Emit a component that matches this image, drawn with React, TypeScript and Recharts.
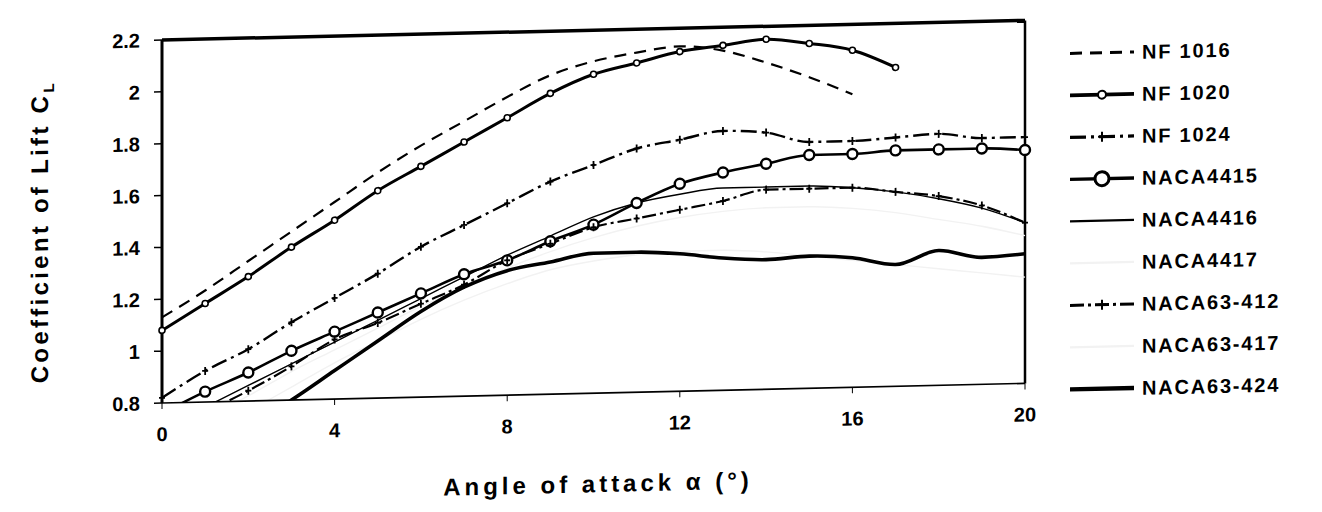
import React from 'react'
import { LineChart, Line, XAxis, YAxis, ReferenceLine, Legend } from 'recharts'

const FONT = '"Liberation Sans", Arial, sans-serif'

// angle of attack (deg)
const ANGLES = [0, 1, 2, 3, 4, 5, 6, 7, 8, 9, 10, 11, 12, 13, 14, 15, 16, 17, 18, 19, 20]
const X_TICKS = [0, 4, 8, 12, 16, 20]
const Y_TICKS = [0.8, 1, 1.2, 1.4, 1.6, 1.8, 2, 2.2]

// lift coefficient
const NF1016 = [1.13, 1.23, 1.34, 1.45, 1.56, 1.67, 1.77, 1.86, 1.95, 2.03, 2.08, 2.11, 2.13, 2.11, 2.06, 2.0, 1.93]
const NF1020 = [1.08, 1.18, 1.28, 1.39, 1.49, 1.6, 1.69, 1.78, 1.87, 1.96, 2.03, 2.07, 2.11, 2.13, 2.15, 2.13, 2.1, 2.03]
const NF1024 = [0.82, 0.92, 1.0, 1.1, 1.19, 1.28, 1.38, 1.46, 1.54, 1.62, 1.68, 1.74, 1.77, 1.8, 1.79, 1.75, 1.75, 1.76, 1.77, 1.75, 1.75]
const NACA4415 = [0.76, 0.84, 0.91, 0.99, 1.06, 1.13, 1.2, 1.27, 1.32, 1.39, 1.45, 1.53, 1.6, 1.64, 1.67, 1.7, 1.7, 1.71, 1.71, 1.71, 1.7]
const NACA4416 = [0.7, 0.78, 0.86, 0.94, 1.02, 1.1, 1.18, 1.26, 1.34, 1.41, 1.48, 1.53, 1.56, 1.58, 1.58, 1.58, 1.57, 1.55, 1.52, 1.48, 1.42]
const NACA4417 = [0.66, 0.74, 0.82, 0.91, 0.99, 1.07, 1.15, 1.22, 1.29, 1.35, 1.4, 1.44, 1.47, 1.49, 1.5, 1.5, 1.49, 1.47, 1.44, 1.41, 1.37]
const NACA63_412 = [0.68, 0.76, 0.84, 0.93, 1.03, 1.09, 1.16, 1.23, 1.32, 1.38, 1.44, 1.47, 1.5, 1.53, 1.57, 1.57, 1.57, 1.55, 1.53, 1.49, 1.42]
const NACA63_417 = [0.58, 0.67, 0.76, 0.85, 0.94, 1.02, 1.1, 1.17, 1.23, 1.28, 1.31, 1.33, 1.34, 1.34, 1.33, 1.31, 1.29, 1.27, 1.25, 1.23, 1.21]
const NACA63_424 = [0.48, 0.59, 0.7, 0.8, 0.91, 1.02, 1.13, 1.22, 1.28, 1.31, 1.34, 1.34, 1.33, 1.31, 1.3, 1.31, 1.3, 1.27, 1.32, 1.29, 1.3]

type Marker = 'none' | 'circle' | 'bigcircle' | 'plus'
type Series = { key: string; name: string; values: number[]; stroke: string; width: number; dash?: string; marker: Marker }

const SERIES: Series[] = [
  { key: 'nf1016', name: 'NF 1016', values: NF1016, stroke: '#000', width: 2.2, dash: '12 8', marker: 'none' },
  { key: 'nf1020', name: 'NF 1020', values: NF1020, stroke: '#000', width: 3, marker: 'circle' },
  { key: 'nf1024', name: 'NF 1024', values: NF1024, stroke: '#000', width: 2.4, dash: '16 5 3 5', marker: 'plus' },
  { key: 'naca4415', name: 'NACA4415', values: NACA4415, stroke: '#000', width: 2.6, marker: 'bigcircle' },
  { key: 'naca4416', name: 'NACA4416', values: NACA4416, stroke: '#000', width: 1.4, marker: 'none' },
  { key: 'naca4417', name: 'NACA4417', values: NACA4417, stroke: '#f2f2f2', width: 1.4, marker: 'none' },
  { key: 'naca63412', name: 'NACA63-412', values: NACA63_412, stroke: '#000', width: 2.2, dash: '14 4 3 4', marker: 'plus' },
  { key: 'naca63417', name: 'NACA63-417', values: NACA63_417, stroke: '#f2f2f2', width: 1.4, marker: 'none' },
  { key: 'naca63424', name: 'NACA63-424', values: NACA63_424, stroke: '#000', width: 3.6, marker: 'none' },
]

const data = ANGLES.map((a, i) => {
  const row: Record<string, number> = { a }
  SERIES.forEach((s) => {
    if (i < s.values.length) row[s.key] = s.values[i]
  })
  return row
})

const plusDot = (p: any) => {
  if (p.cx == null || p.cy == null || p.value == null) return <g key={p.key} />
  return <path key={p.key} d={`M${p.cx - 3},${p.cy}h6M${p.cx},${p.cy - 4}v8`} stroke="#000" strokeWidth={1.8} fill="none" />
}

function dotFor(s: Series): any {
  if (s.marker === 'circle') return { r: 3, fill: '#fff', stroke: '#000', strokeWidth: 1.6 }
  if (s.marker === 'bigcircle') return { r: 5, fill: '#fff', stroke: '#000', strokeWidth: 2.4 }
  if (s.marker === 'plus') return plusDot
  return false
}

function LegendIcon({ s }: { s: Series }) {
  return (
    <svg width={70} height={24} style={{ display: 'block' }}>
      <line x1={2} y1={12} x2={66} y2={12} stroke={s.stroke} strokeWidth={s.width + 0.8} strokeDasharray={s.dash} />
      {s.marker === 'circle' && <circle cx={34} cy={12} r={4} fill="#fff" stroke="#000" strokeWidth={2} />}
      {s.marker === 'bigcircle' && <circle cx={34} cy={12} r={7} fill="#fff" stroke="#000" strokeWidth={3} />}
      {s.marker === 'plus' && <path d="M30,12h8M34,7v10" stroke="#000" strokeWidth={2} />}
    </svg>
  )
}

function LegendBox() {
  return (
    <div style={{ fontFamily: FONT, fontWeight: 700, fontSize: 20, letterSpacing: 1.8, color: '#000' }}>
      {SERIES.map((s) => (
        <div key={s.key} style={{ display: 'flex', alignItems: 'center', height: 42 }}>
          <LegendIcon s={s} />
          <span style={{ marginLeft: 4, whiteSpace: 'nowrap' }}>{s.name}</span>
        </div>
      ))}
    </div>
  )
}

const YTitle = () => (
  <text x={48} y={229} transform="rotate(-90 48 229)" textAnchor="middle" fontFamily={FONT} fontWeight={700} fontSize={24} letterSpacing={3.3} fill="#000">
    Coefficient of Lift C<tspan fontSize={15} dy={6}>L</tspan>
  </text>
)

const XTitle = () => (
  <text x={598} y={502} textAnchor="middle" fontFamily={FONT} fontWeight={700} fontSize={24} letterSpacing={4} fill="#000">
    Angle of attack α (°)
  </text>
)

const tickStyle = { fill: '#000', fontFamily: FONT, fontWeight: 700, fontSize: 20 }

export default function App() {
  return (
    <div style={{ position: 'absolute', left: 0, top: 0, width: 1322, height: 512, background: '#fff', transform: 'skewY(-1.3deg)', transformOrigin: '162px 0' }}>
      <LineChart width={1322} height={512} data={data} margin={{ top: 40, right: 297, bottom: 0, left: 0 }}>
        <XAxis
          dataKey="a"
          type="number"
          domain={[0, 20]}
          ticks={X_TICKS}
          height={109}
          stroke="#000"
          axisLine={{ stroke: '#000', strokeWidth: 1.6 }}
          tickLine={{ stroke: '#000' }}
          tickSize={6}
          tickMargin={18}
          tick={tickStyle}
          label={<XTitle />}
        />
        <YAxis
          type="number"
          domain={[0.8, 2.2]}
          ticks={Y_TICKS}
          allowDataOverflow
          width={162}
          axisLine={{ stroke: '#000', strokeWidth: 3 }}
          tickLine={{ stroke: '#000', strokeWidth: 1.5 }}
          tickSize={8}
          tickMargin={14}
          tick={tickStyle}
          label={<YTitle />}
        />
        <ReferenceLine y={2.2} stroke="#000" strokeWidth={3.5} />
        <ReferenceLine x={20} stroke="#000" strokeWidth={2.5} />
        {SERIES.map((s) => (
          <Line
            key={s.key}
            dataKey={s.key}
            name={s.name}
            type="monotone"
            stroke={s.stroke}
            strokeWidth={s.width}
            strokeDasharray={s.dash}
            dot={dotFor(s)}
            activeDot={false}
            isAnimationActive={false}
          />
        ))}
        <Legend
          content={<LegendBox />}
          layout="vertical"
          align="center"
          verticalAlign="middle"
          wrapperStyle={{ left: 1068, top: 53, width: 250 }}
        />
      </LineChart>
    </div>
  )
}
